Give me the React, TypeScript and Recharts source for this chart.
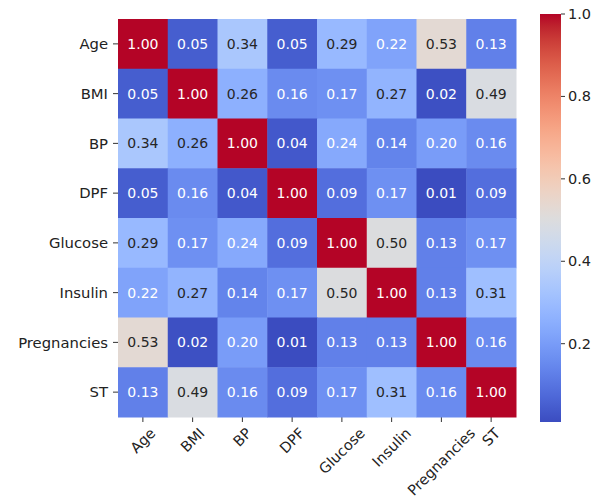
import React from "react";
import {
  ScatterChart,
  Scatter,
  XAxis,
  YAxis,
  Customized,
} from "recharts";

const LABELS = ["Age", "BMI", "BP", "DPF", "Glucose", "Insulin", "Pregnancies", "ST"];

const ageRow = [1.0, 0.05, 0.34, 0.05, 0.29, 0.22, 0.53, 0.13];
const bmiRow = [0.05, 1.0, 0.26, 0.16, 0.17, 0.27, 0.02, 0.49];
const bpRow = [0.34, 0.26, 1.0, 0.04, 0.24, 0.14, 0.2, 0.16];
const dpfRow = [0.05, 0.16, 0.04, 1.0, 0.09, 0.17, 0.01, 0.09];
const glucoseRow = [0.29, 0.17, 0.24, 0.09, 1.0, 0.5, 0.13, 0.17];
const insulinRow = [0.22, 0.27, 0.14, 0.17, 0.5, 1.0, 0.13, 0.31];
const pregnanciesRow = [0.53, 0.02, 0.2, 0.01, 0.13, 0.13, 1.0, 0.16];
const stRow = [0.13, 0.49, 0.16, 0.09, 0.17, 0.31, 0.16, 1.0];

const ROWS = [ageRow, bmiRow, bpRow, dpfRow, glucoseRow, insulinRow, pregnanciesRow, stRow];

const COLORBAR_TICKS = [0.2, 0.4, 0.6, 0.8, 1.0];
const VMIN = 0.01;
const VMAX = 1.0;

// matplotlib coolwarm segment data (33 nodes)
const CW_R = [0.2298, 0.2662, 0.3039, 0.3428, 0.383, 0.4244, 0.4667, 0.5096, 0.553, 0.5963, 0.6392, 0.6813, 0.7222, 0.7615, 0.7987, 0.8335, 0.8654, 0.8978, 0.9241, 0.9445, 0.9589, 0.9673, 0.97, 0.9668, 0.958, 0.9437, 0.9239, 0.899, 0.8692, 0.8346, 0.7956, 0.7525, 0.7057];
const CW_G = [0.2987, 0.3531, 0.4065, 0.4588, 0.5094, 0.5581, 0.6046, 0.6483, 0.6889, 0.7261, 0.7596, 0.789, 0.814, 0.8343, 0.8498, 0.8602, 0.8654, 0.8489, 0.8274, 0.8009, 0.7698, 0.7341, 0.6943, 0.6504, 0.6028, 0.5518, 0.4973, 0.4396, 0.3783, 0.3129, 0.2413, 0.1572, 0.0156];
const CW_B = [0.7537, 0.8015, 0.845, 0.8837, 0.9174, 0.9456, 0.9682, 0.9848, 0.9954, 0.9998, 0.9982, 0.9904, 0.9766, 0.9569, 0.9317, 0.9011, 0.8654, 0.8209, 0.7745, 0.7267, 0.678, 0.6288, 0.5794, 0.5303, 0.4818, 0.4342, 0.388, 0.3432, 0.3003, 0.2593, 0.2205, 0.1841, 0.1502];

function coolwarmRgb(t: number): number[] {
  const idx = Math.max(0, Math.min(255, Math.floor(t * 256)));
  const u = idx / 255;
  const k = Math.min(31, Math.floor(u * 32));
  const f = (u - k / 32) * 32;
  const lerp = (a: number[]) => a[k] + (a[k + 1] - a[k]) * f;
  return [lerp(CW_R), lerp(CW_G), lerp(CW_B)];
}

const toHex = (c: number[]) =>
  "#" + c.map((v) => Math.round(v * 255).toString(16).padStart(2, "0")).join("");

const norm = (v: number) => (v - VMIN) / (VMAX - VMIN);

function textColor(rgb: number[]) {
  const lin = rgb.map((c) => (c <= 0.03928 ? c / 12.92 : Math.pow((c + 0.055) / 1.055, 2.4)));
  const lum = 0.2126 * lin[0] + 0.7152 * lin[1] + 0.0722 * lin[2];
  return lum > 0.41 ? "#262626" : "#ffffff";
}

const cells = ROWS.flatMap((row, i) =>
  row.map((v, j) => ({ x: j + 0.5, y: i + 0.5, v }))
);

const W = 597;
const H = 497;
const MARGIN = { top: 19, right: 81, bottom: 10, left: 8 };
const Y_AXIS_W = 110;
const X_AXIS_H = 70;
const CELL_W = (W - MARGIN.left - MARGIN.right - Y_AXIS_W) / LABELS.length;
const CELL_H = (H - MARGIN.top - MARGIN.bottom - X_AXIS_H) / LABELS.length;

const CB = { x: 540, y: 14, w: 21, h: 408 };
const FONT = "'DejaVu Sans', sans-serif";
const TEXT = "#222";

let measureCtx: CanvasRenderingContext2D | null = null;
function measure(s: string, size: number) {
  if (!measureCtx) measureCtx = document.createElement("canvas").getContext("2d");
  if (!measureCtx) return s.length * size * 0.6;
  measureCtx.font = `${size}px 'DejaVu Sans'`;
  return measureCtx.measureText(s).width;
}

const HeatCell = (props: any) => {
  const { cx, cy, payload } = props;
  const rgb = coolwarmRgb(norm(payload.v));
  return (
    <g>
      <rect
        x={cx - CELL_W / 2}
        y={cy - CELL_H / 2}
        width={CELL_W + 0.5}
        height={CELL_H + 0.5}
        fill={toHex(rgb)}
      />
      <text
        x={cx}
        y={cy}
        textAnchor="middle"
        dominantBaseline="central"
        fontSize={14}
        fill={textColor(rgb)}
      >
        {payload.v.toFixed(2)}
      </text>
    </g>
  );
};

const XTick = (props: any) => {
  const { x, y, payload } = props;
  const label = LABELS[Math.floor(payload.value)];
  const size = 14.5;
  const w = measure(label, size);
  const h = size * 1.1;
  const half = (w + h) / (2 * Math.SQRT2);
  const cy = y + 1 + half;
  return (
    <text
      x={x}
      y={cy}
      textAnchor="middle"
      dominantBaseline="central"
      fontSize={size}
      fill={TEXT}
      transform={`rotate(-45 ${x} ${cy})`}
    >
      {label}
    </text>
  );
};

const Colorbar = () => {
  const stops = CW_R.map((_, i) => i / 32);
  const yOf = (v: number) => CB.y + CB.h * (1 - norm(v));
  return (
    <g>
      <defs>
        <linearGradient id="cw" x1="0" y1="1" x2="0" y2="0">
          {stops.map((s) => (
            <stop key={s} offset={s} stopColor={toHex(coolwarmRgb(s))} />
          ))}
        </linearGradient>
      </defs>
      <rect x={CB.x} y={CB.y} width={CB.w} height={CB.h} fill="url(#cw)" />
      {COLORBAR_TICKS.map((t) => (
        <g key={t}>
          <line x1={CB.x + CB.w} x2={CB.x + CB.w + 4} y1={yOf(t)} y2={yOf(t)} stroke="#333" />
          <text
            x={CB.x + CB.w + 7}
            y={yOf(t)}
            dominantBaseline="central"
            fontSize={14.5}
            fill={TEXT}
          >
            {t.toFixed(1)}
          </text>
        </g>
      ))}
    </g>
  );
};

const TICK_POS = LABELS.map((_, i) => i + 0.5);

export default function App() {
  return (
    <div
      style={{
        position: "absolute",
        left: 0,
        top: 0,
        width: W,
        height: H,
        background: "#fff",
        fontFamily: FONT,
      }}
    >
      <ScatterChart width={W} height={H} margin={MARGIN} style={{ fontFamily: FONT }}>
        <XAxis
          type="number"
          dataKey="x"
          domain={[0, LABELS.length]}
          ticks={TICK_POS}
          interval={0}
          height={X_AXIS_H}
          axisLine={false}
          tickLine={{ stroke: "#333" }}
          tickSize={5}
          tick={<XTick />}
        />
        <YAxis
          type="number"
          dataKey="y"
          domain={[0, LABELS.length]}
          ticks={TICK_POS}
          interval={0}
          reversed
          width={Y_AXIS_W}
          axisLine={false}
          tickLine={{ stroke: "#333" }}
          tickSize={5}
          tickMargin={5}
          tickFormatter={(v: number) => LABELS[Math.floor(v)]}
          tick={{ fill: TEXT, fontSize: 14.8 }}
        />
        <Scatter data={cells} shape={<HeatCell />} isAnimationActive={false} />
        <Customized component={<Colorbar />} />
      </ScatterChart>
    </div>
  );
}
